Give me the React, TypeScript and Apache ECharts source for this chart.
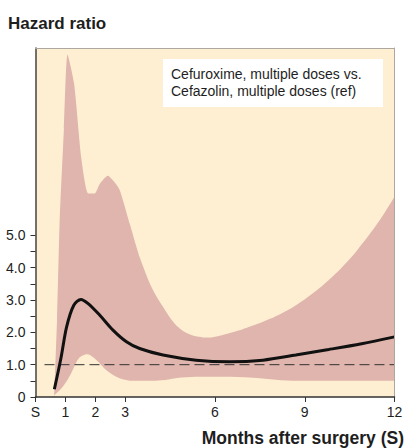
import React, { useEffect, useRef } from "react";
import * as echarts from "echarts";

// Months after surgery (S = 0) vs hazard ratio
const upperBound: [number, number][] = [
  [0.63, 0.05], [0.72, 2.4], [0.81, 5.5], [0.95, 8.3], [1.07, 10.6],
  [1.29, 9.7], [1.53, 7.4], [1.76, 6.3], [1.98, 6.3], [2.15, 6.6],
  [2.42, 6.85], [2.64, 6.65], [2.82, 6.39], [3.15, 5.36], [3.48, 4.33],
  [3.82, 3.51], [4.05, 3.1], [4.26, 2.79], [4.5, 2.45], [4.7, 2.22],
  [5.0, 2.0], [5.26, 1.9], [5.55, 1.85], [5.82, 1.84], [6.1, 1.88],
  [6.37, 1.95], [6.93, 2.1], [7.48, 2.28], [8.0, 2.48], [8.5, 2.72],
  [9.04, 3.05], [9.6, 3.45], [10.15, 3.92], [10.7, 4.48], [11.26, 5.15],
  [11.6, 5.6], [12.0, 6.2],
];

const lowerBound: [number, number][] = [
  [0.63, 0.06], [0.85, 0.25], [1.05, 0.5], [1.2, 0.75], [1.45, 1.2],
  [1.73, 1.32], [2.04, 1.14], [2.37, 0.83], [2.81, 0.58], [3.26, 0.5],
  [4.0, 0.5], [4.9, 0.6], [5.5, 0.63], [6.5, 0.63], [7.5, 0.58],
  [8.2, 0.52], [9.0, 0.5], [10.0, 0.5], [12.0, 0.5],
];

const hazardRatio: [number, number][] = [
  [0.63, 0.24], [0.85, 1.2], [1.04, 2.17], [1.28, 2.84], [1.52, 3.02],
  [1.76, 2.89], [2.15, 2.53], [2.59, 2.07], [3.04, 1.71], [3.48, 1.5],
  [4.26, 1.3], [5.37, 1.14], [6.48, 1.09], [7.6, 1.14], [8.7, 1.3],
  [9.8, 1.47], [10.9, 1.65], [12.0, 1.86],
];

const referenceLine: [number, number][] = [[0.3, 1], [12, 1]];

const xTicks = [0, 1, 2, 3, 6, 9, 12];
const yLabelValues = [0, 1, 2, 3, 4, 5];
const yTickValues = [0, 0.5, 1, 1.5, 2, 2.5, 3, 3.5, 4, 4.5, 5];

const BG = "#feefd2";
const BAND = "#dfb5ad";
const FONT = "Liberation Sans, Arial, Helvetica, sans-serif";
const TEXT = "#1e1e1e";

export default function App() {
  const ref = useRef<HTMLDivElement>(null);

  useEffect(() => {
    if (!ref.current) return;
    const chart = echarts.init(ref.current, undefined, { renderer: "svg" });
    const axisCommon = {
      type: "value" as const,
      splitLine: { show: false },
      z: 10,
    };
    chart.setOption({
      animation: false,
      textStyle: { fontFamily: FONT },
      grid: {
        left: 35.5,
        right: 14.5,
        top: 48,
        bottom: 51,
        show: true,
        backgroundColor: BG,
        borderWidth: 0,
      },
      xAxis: [
        {
          ...axisCommon,
          min: 0,
          max: 12,
          axisLine: { show: true, onZero: false, lineStyle: { color: "#333", width: 1.5 } },
          axisTick: { show: true, customValues: xTicks, length: 5, lineStyle: { color: "#333", width: 1 } },
          axisLabel: {
            customValues: xTicks,
            formatter: (v: number) => (v === 0 ? "S" : String(v)),
            fontSize: 14,
            color: TEXT,
            fontFamily: FONT,
            margin: 8,
          },
        },
        {
          ...axisCommon,
          position: "top",
          min: 0,
          max: 12,
          axisLine: { show: true, onZero: false, lineStyle: { color: "#aca89f", width: 1 } },
          axisTick: { show: false },
          axisLabel: { show: false },
        },
      ],
      yAxis: [
        {
          ...axisCommon,
          min: 0,
          max: 10.8,
          axisLine: { show: true, onZero: false, lineStyle: { color: "#444", width: 1.5 } },
          axisTick: { show: true, customValues: yTickValues, length: 5, lineStyle: { color: "#333", width: 1 } },
          axisLabel: {
            customValues: yLabelValues,
            formatter: (v: number) => (v === 0 ? "0" : v.toFixed(1)),
            fontSize: 14,
            color: TEXT,
            fontFamily: FONT,
            margin: 10,
          },
        },
        {
          ...axisCommon,
          position: "right",
          min: 0,
          max: 10.8,
          axisLine: { show: true, onZero: false, lineStyle: { color: "#aca89f", width: 1 } },
          axisTick: { show: false },
          axisLabel: { show: false },
        },
      ],
      series: [
        {
          type: "line",
          data: upperBound,
          symbol: "none",
          smooth: 0.2,
          lineStyle: { width: 0 },
          areaStyle: { color: BAND, opacity: 1 },
          z: 2,
        },
        {
          type: "line",
          data: lowerBound,
          symbol: "none",
          smooth: 0.3,
          lineStyle: { width: 0 },
          areaStyle: { color: BG, opacity: 1 },
          z: 3,
        },
        {
          type: "line",
          data: referenceLine,
          symbol: "none",
          lineStyle: { color: "#333", width: 1, type: [10, 5] },
          z: 4,
        },
        {
          type: "line",
          data: hazardRatio,
          symbol: "none",
          smooth: 0.3,
          lineStyle: { color: "#111", width: 3 },
          z: 5,
        },
      ],
      graphic: [
        {
          type: "text",
          x: 8,
          y: 23,
          style: {
            text: "Hazard ratio",
            fontSize: 17,
            fontWeight: "bold",
            fontFamily: FONT,
            fill: TEXT,
            textVerticalAlign: "middle",
          },
        },
        {
          type: "text",
          x: 404,
          y: 438,
          style: {
            text: "Months after surgery (S)",
            fontSize: 17.5,
            fontWeight: "bold",
            fontFamily: FONT,
            fill: TEXT,
            textAlign: "right",
            textVerticalAlign: "middle",
          },
        },
        {
          type: "rect",
          shape: { x: 163, y: 59, width: 220, height: 48 },
          style: { fill: "#ffffff" },
          z: 20,
        },
        {
          type: "text",
          x: 171,
          y: 74,
          z: 21,
          style: {
            text: "Cefuroxime, multiple doses vs.",
            fontSize: 14,
            fontFamily: FONT,
            fill: TEXT,
            textVerticalAlign: "middle",
          },
        },
        {
          type: "text",
          x: 171,
          y: 91,
          z: 21,
          style: {
            text: "Cefazolin, multiple doses (ref)",
            fontSize: 14,
            fontFamily: FONT,
            fill: TEXT,
            textVerticalAlign: "middle",
          },
        },
      ],
    });
    return () => chart.dispose();
  }, []);

  return (
    <div
      ref={ref}
      style={{ position: "absolute", left: 0, top: 0, width: 409, height: 448 }}
    />
  );
}
